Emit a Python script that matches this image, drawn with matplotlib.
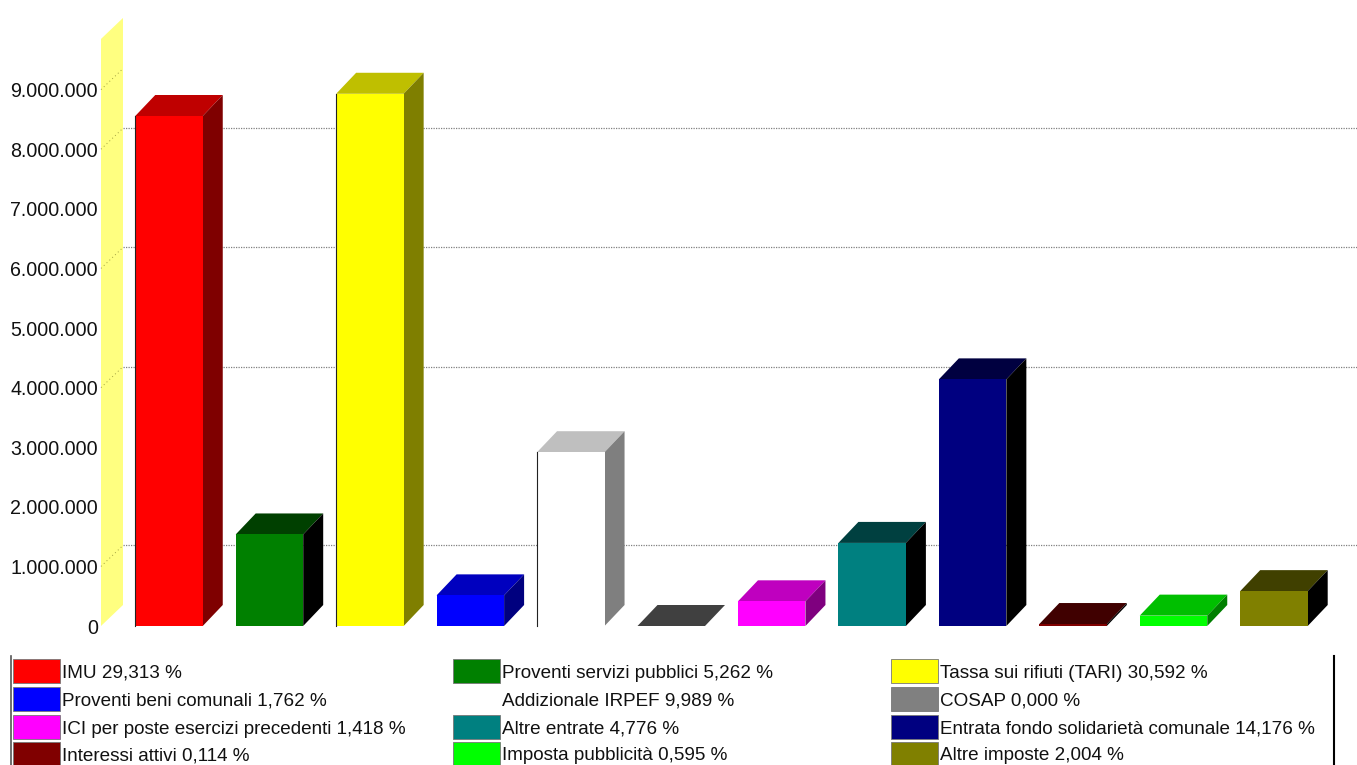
import matplotlib
matplotlib.use('Agg')
import matplotlib.pyplot as plt
from matplotlib.patches import Polygon, Rectangle

# bars, left to right
names = ['IMU', 'Proventi servizi pubblici', 'Tassa sui rifiuti (TARI)', 'Proventi beni comunali',
         'Addizionale IRPEF', 'COSAP', 'ICI per poste esercizi precedenti', 'Altre entrate',
         'Entrata fondo solidarietà comunale', 'Interessi attivi', 'Imposta pubblicità', 'Altre imposte']
percents = ['29,313', '5,262', '30,592', '1,762', '9,989', '0,000', '1,418', '4,776', '14,176', '0,114', '0,595', '2,004']
values = [8557000, 1536000, 8930000, 514000, 2916000, 0, 414000, 1394000, 4138000, 33000, 174000, 585000]
colors = [(255, 0, 0), (0, 128, 0), (255, 255, 0), (0, 0, 255), (255, 255, 255), (128, 128, 128),
          (255, 0, 255), (0, 128, 128), (0, 0, 128), (128, 0, 0), (0, 255, 0), (128, 128, 0)]

tick_values = [0, 1000000, 2000000, 3000000, 4000000, 5000000, 6000000, 7000000, 8000000, 9000000]
tick_labels = ['0', '1.000.000', '2.000.000', '3.000.000', '4.000.000', '5.000.000', '6.000.000',
               '7.000.000', '8.000.000', '9.000.000']
grid_values = [1000000, 4000000, 6000000, 8000000]
wall_top = 9850000

W, H = 1357, 765
PITCH = 100.45
X0 = 169
PX_PER_UNIT = 59.6 / 1e6
BASE = 626
BAR_W = 67.5 / PITCH
DX = 20 / PITCH
DY = 21 / PX_PER_UNIT

plt.rcParams['font.family'] = 'Liberation Sans'


def shade(c, amount):
    return tuple(max(v - amount, 0) / 255 for v in c)


fig = plt.figure(figsize=(W / 100, H / 100), dpi=100)
ax = fig.add_axes([0, 0, 1, 1])
ax.set_xlim(-X0 / PITCH, (W - X0) / PITCH)
ax.set_ylim((BASE - H) / PX_PER_UNIT, BASE / PX_PER_UNIT)
ax.axis('off')

# left wall
wall_x = (101 - X0) / PITCH
wall_dx = 22 / PITCH
ax.add_patch(Polygon([(wall_x, 0), (wall_x + wall_dx, DY), (wall_x + wall_dx, wall_top + DY), (wall_x, wall_top)],
                     facecolor='#ffff80', edgecolor='none', zorder=1))

# grid on the back plane and across the wall
for g in grid_values + [9000000]:
    ax.plot([wall_x, wall_x + wall_dx], [g, g + DY], color='#a0a040', lw=0.7, ls=(0, (1, 3)), zorder=2)
for g in grid_values:
    ax.plot([wall_x + wall_dx, ax.get_xlim()[1]], [g + DY, g + DY], color='#808080', lw=0.9, ls=(0, (1, 1)), zorder=2)

# bars
for i, (v, c) in enumerate(zip(values, colors)):
    l = i - BAR_W / 2
    r = i + BAR_W / 2
    ax.add_patch(Polygon([(l, v), (l + DX, v + DY), (r + DX, v + DY), (r, v)],
                         facecolor=shade(c, 64), edgecolor='none', zorder=3))
    ax.add_patch(Polygon([(r, 0), (r + DX, DY), (r + DX, v + DY), (r, v)],
                         facecolor=shade(c, 128), edgecolor='none', zorder=3))
    if v > 0:
        ax.add_patch(Rectangle((l, 0), BAR_W, v, facecolor=shade(c, 0), edgecolor='none', zorder=4))
    # the bright bars have a dark line down the left side
    if c[0] == 255 and v > 1000000:
        ax.plot([l, l], [0, v], color='#222222', lw=0.8, zorder=5)

# y labels
for t, lab in zip(tick_values, tick_labels):
    ax.text((98 - X0) / PITCH, t - 2 / PX_PER_UNIT, lab, ha='right', va='center', fontsize=14.1, color='#111111', zorder=5)

# legend, laid out in pixels on its own axes
lax = fig.add_axes([0, 0, 1, 1])
lax.set_xlim(0, W)
lax.set_ylim(H, 0)
lax.axis('off')
col_x = [13, 453, 891]
row_y = [659, 687, 715, 742]
lax.plot([11, 11], [656, H], color='#555555', lw=1.2)
lax.plot([1334, 1334], [656, H], color='black', lw=1.5)
for n, (name, pct, c) in enumerate(zip(names, percents, colors)):
    x = col_x[n % 3]
    y = row_y[n // 3]
    edge = 'white' if c == (255, 255, 255) else '#777777'
    lax.add_patch(Rectangle((x, y), 47, 24, facecolor=shade(c, 0), edgecolor=edge, lw=0.6))
    lax.text(x + 49, y + 14, f'{name} {pct} %', ha='left', va='center', fontsize=13.6, color='#111111')

fig.savefig('out.png', dpi=100, facecolor='white')
